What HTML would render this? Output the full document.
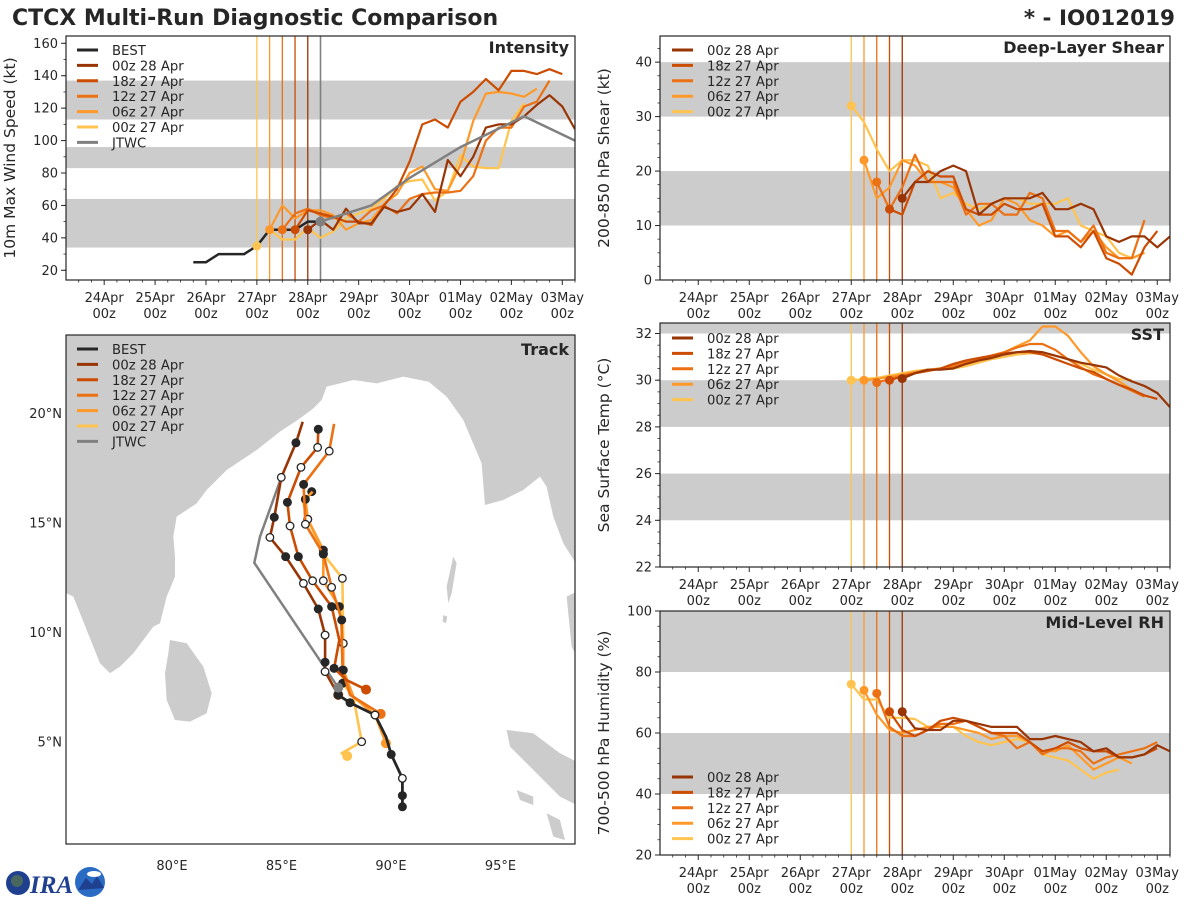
<!DOCTYPE html>
<html><head><meta charset="utf-8">
<style>
html,body{margin:0;padding:0;background:#fff;}
svg{display:block;font-family:"DejaVu Sans","Liberation Sans",sans-serif;}
</style></head>
<body>
<svg id="fig" xmlns="http://www.w3.org/2000/svg" width="1200" height="900" viewBox="0 0 1200 900">
<text x="12" y="25" font-size="22" font-weight="bold" fill="#262626">CTCX Multi-Run Diagnostic Comparison</text>
<text x="1175" y="25" font-size="21.5" font-weight="bold" fill="#262626" text-anchor="end">* - IO012019</text>
<g>
<circle cx="18" cy="883" r="12" fill="#1f3f8f"/>
<circle cx="17" cy="881" r="6" fill="#5a7a4a" opacity="0.7"/>
<text x="30" y="893" font-size="25" font-weight="bold" font-style="italic" fill="#1f3f8f" font-family="Liberation Serif, serif">IRA</text>
<circle cx="90" cy="882" r="15" fill="#2a6cc4"/>
<path d="M78 890 L86 878 L92 884 L97 876 L104 888 Z" fill="#1f3f8f"/>
<ellipse cx="94" cy="874" rx="7" ry="3" fill="#fff"/>
</g>
<g id="layer"></g>
</svg>
<script>
// ---------- data ----------
const dayLabels = ["24Apr","25Apr","26Apr","27Apr","28Apr","29Apr","30Apr","01May","02May","03May"];
const T0 = -0.75, T1 = 9.25;
const runNames = ["00z 28 Apr","18z 27 Apr","12z 27 Apr","06z 27 Apr","00z 27 Apr"];
const runColors = ["#993404","#cc4c02","#ec7014","#fe9929","#fec44f"];
const runInit = [4.0, 3.75, 3.5, 3.25, 3.0];

const bestT0 = 1.75;
const bestInt = [25,25,30,30,30,35,45,45,45,50,50];
const jtwcT = [4.25,5.25,6.0,7.0,8.25,9.25];
const jtwcInt = [50,60,77,96,115,100];

const int00z27 = [35,45,39,39,46,40,44,52,55,58,64,72,75,76,63,69,91,84,83,83,112,123];
const int06z27 = [45,60,52,57,57,54,45,49,51,61,67,80,84,70,69,85,112,129,130,129,127,132];
const int12z27 = [45,55,58,54,52,55,50,57,60,55,64,67,68,68,69,78,100,108,108,121,124,137];
const int18z27 = [45,57,55,53,50,50,48,60,70,87,110,113,108,124,130,138,131,143,143,141,144,141];
const int00z28 = [45,51,45,58,49,49,59,56,58,67,56,88,78,90,108,110,110,115,122,128,121,107];

const sh00z27 = [32,29,24,20,22,22,21,15,16,14,13,14,15,15,14,14,14,15,10,9,8,5,4,5];
const sh06z27 = [22,15,17,22,21,18,18,17,13,10,11,15,14,11,10,8,9,7,9,6,4,4,5];
const sh12z27 = [18,13,17,23,18,18,18,12,14,14,12,12,16,15,9,9,7,10,5,4,4,11];
const sh18z27 = [13,12,18,20,19,19,13,12,12,14,13,13,14,8,8,6,9,4,3,1,6,9];
const sh00z28 = [15,18,18,20,21,20,12,14,15,15,15,16,13,13,14,13,8,7,8,8,6,8];

const sst00z27 = [30.0,30.05,30.1,30.2,30.3,30.4,30.45,30.5,30.5,30.6,30.75,30.9,31.0,31.1,31.15,31.15,31.05,30.9,30.7,30.45,30.25,30.05,30.0];
const sst06z27 = [30.0,30.05,30.15,30.25,30.35,30.45,30.5,30.6,30.75,30.9,31.05,31.2,31.45,31.7,32.3,32.3,31.9,31.2,30.6,30.25,29.95,29.6,29.3];
const sst12z27 = [29.9,30.05,30.2,30.3,30.4,30.5,30.6,30.75,30.9,31.05,31.2,31.4,31.55,31.55,31.3,30.9,30.55,30.25,30.05,29.8,29.55,29.3];
const sst18z27 = [30.0,30.15,30.3,30.4,30.5,30.7,30.85,30.95,31.05,31.15,31.2,31.2,31.1,30.9,30.7,30.5,30.35,30.05,29.8,29.6,29.35,29.2];
const sst00z28 = [30.07,30.3,30.45,30.45,30.5,30.7,30.85,30.95,31.1,31.2,31.25,31.2,31.05,30.9,30.75,30.65,30.55,30.2,29.95,29.75,29.45,28.85];

const rh00z27 = [76,71,71,65,65,64.6,62,62,62,59,57,56,57,58,57,53,52,51,48,45,47,48];
const rh06z27 = [74,66,61,60,61,62,62,62,61,60,58,59,59,57,54,54,56,52,48,50,52,50];
const rh12z27 = [73,62,59,59,61,63,63,64,62,60,59,55,57,53,55,55,54,50,52,53,54,55,57];
const rh18z27 = [67,61,59,61,64,65,64,62,60,60,60,57,54,55,57,55,54,54,52,52,53,55];
const rh00z28 = [67,61.5,61,61,64,64,63,62,62,62,58,58,59,58,57,54,55,52,52,53,56,54];

const intTicks = [20,40,60,80,100,120,140,160];
const shTicks = [0,10,20,30,40];
const sstTicks = [22,24,26,28,30,32];
const rhTicks = [20,40,60,80,100];
const intBands = [[34,64],[83,96],[113,137]];
const shBands = [[10,20],[30,40]];
const sstBands = [[24,26],[28,30],[32,40]];
const rhBands = [[40,60],[80,100]];

// track data (lon, lat, marker f=filled o=open n=none i=init)
const bestLon = [90.52,90.52,90.52,90.01,89.77,89.27,88.13,87.59];
const bestLat = [2.02,2.53,3.32,4.41,5.22,6.21,6.77,7.13];
const bestMk = ["f","f","o","f","n","o","f","f"];
const jtwcLon = [87.59,83.76,84.02,84.99];
const jtwcLat = [7.46,13.16,14.35,17.06];
const trk00z28Lon = [87.59,86.99,86.99,86.99,86.68,86.00,85.19,84.47,84.67,84.99,85.66,85.97];
const trk00z28Lat = [7.13,8.19,8.62,9.86,11.05,12.22,13.44,14.32,15.24,17.06,18.64,19.60];
const trk00z28Mk = ["i","o","f","o","f","o","f","o","f","o","f","n"];
const trk18z27Lon = [88.86,87.98,87.40,87.64,87.29,86.42,85.77,85.39,85.27,85.89,86.65,86.68];
const trk18z27Lat = [7.37,7.80,8.34,9.63,11.16,12.34,13.44,14.84,15.92,17.52,18.43,19.26];
const trk18z27Mk = ["i","n","f","n","f","o","f","o","f","o","o","f"];
const trk12z27Lon = [89.53,88.13,87.79,87.75,87.75,87.29,86.91,86.09,86.01,87.18,87.40];
const trk12z27Lat = [6.26,7.13,8.26,9.63,10.55,12.04,13.56,14.92,16.74,18.26,19.50];
const trk12z27Mk = ["i","n","f","n","f","o","f","o","f","o","n"];
const trk06z27Lon = [89.77,89.27,88.28,87.82,87.82,87.64,86.91,86.91,86.20,86.09,86.42];
const trk06z27Lat = [4.92,6.21,7.05,8.26,9.48,11.16,12.34,13.74,15.15,16.06,16.41];
const trk06z27Mk = ["i","o","n","f","o","f","o","f","o","f","n"];
const trk00z27Lon = [88.00,87.75,88.66,88.28,87.79,87.82,87.78,86.91,86.20,86.00,86.38];
const trk00z27Lat = [4.34,4.46,4.99,7.05,7.66,9.48,12.45,13.56,15.15,15.88,16.41];
const trk00z27Mk = ["i","n","o","n","f","o","o","f","o","n","f"];
const lonTicks = [80,85,90,95];
const latTicks = [5,10,15,20];

// ---------- drawing ----------
const NS = "http://www.w3.org/2000/svg";
const layer = document.getElementById("layer");
function mk(tag, attrs, parent){
  const el = document.createElementNS(NS, tag);
  for (const k in attrs) el.setAttribute(k, attrs[k]);
  (parent || layer).appendChild(el);
  return el;
}
const DARK = "#262626";
const P_int = {x0:66,x1:575,y0:36,y1:280,vmin:14,vmax:164.5};
const P_sh = {x0:660,x1:1170,y0:36,y1:280,vmin:0,vmax:44.8};
const P_sst = {x0:660,x1:1170,y0:323,y1:567,vmin:22,vmax:32.45};
const P_rh = {x0:660,x1:1170,y0:611,y1:855,vmin:20,vmax:100};
function xT(p,t){ return p.x0 + (t-T0)/(T1-T0)*(p.x1-p.x0); }
function yV(p,v){ return p.y1 - (v-p.vmin)/(p.vmax-p.vmin)*(p.y1-p.y0); }

let clipId = 0;
function panel(p, name, title, ylabel, ticks, bands, minorStep, series, withBest){
  const g = mk("g", {});
  
  
  const cid = "clip" + (clipId++);
  const cp = mk("clipPath", {id:cid}, g);
  mk("rect", {x:p.x0, y:p.y0, width:p.x1-p.x0, height:p.y1-p.y0}, cp);
  const inner = mk("g", {"clip-path":"url(#"+cid+")"}, g);
  bands.forEach((b,i)=>{
    const r = mk("rect", {x:p.x0, y:yV(p,b[1]), width:p.x1-p.x0, height:yV(p,b[0])-yV(p,b[1]), fill:"#cccccc"}, inner);
    
    
  });
  runInit.forEach((t,i)=>{
    const l = mk("line", {x1:xT(p,t), x2:xT(p,t), y1:p.y0, y2:p.y1, stroke:runColors[i], "stroke-width":1.3}, inner);
    
    
  });
  if (withBest){
    const l = mk("line", {x1:xT(p,jtwcT[0]), x2:xT(p,jtwcT[0]), y1:p.y0, y2:p.y1, stroke:"#808080", "stroke-width":1.6}, inner);
    
    
  }
  for (let i = series.length-1; i >= 0; i--){
    const vals = series[i];
    const pts = vals.map((v,k)=> xT(p, runInit[i] + k*0.25).toFixed(1) + "," + yV(p,v).toFixed(1)).join(" ");
    const pl = mk("polyline", {points:pts, fill:"none", stroke:runColors[i], "stroke-width":2.2, "stroke-linejoin":"round"}, inner);
    
    
  }
  if (withBest){
    const bp = bestInt.map((v,k)=> xT(p, bestT0 + k*0.25).toFixed(1)+","+yV(p,v).toFixed(1)).join(" ");
    const b = mk("polyline", {points:bp, fill:"none", stroke:DARK, "stroke-width":2.5}, inner);
    
    
    const jp = jtwcInt.map((v,k)=> xT(p, jtwcT[k]).toFixed(1)+","+yV(p,v).toFixed(1)).join(" ");
    const j = mk("polyline", {points:jp, fill:"none", stroke:"#808080", "stroke-width":2.5}, inner);
    
    
  }
  for (let i = series.length-1; i >= 0; i--){
    const d = mk("circle", {cx:xT(p,runInit[i]), cy:yV(p,series[i][0]), r:4.5, fill:runColors[i]}, inner);
    
    
  }
  if (withBest){
    const d = mk("circle", {cx:xT(p,jtwcT[0]), cy:yV(p,jtwcInt[0]), r:5, fill:"#808080"}, inner);
    
    
  }
  const fr = mk("rect", {x:p.x0, y:p.y0, width:p.x1-p.x0, height:p.y1-p.y0, fill:"none", stroke:DARK, "stroke-width":1.2}, g);
  
  
  ticks.forEach(v=>{
    const y = yV(p,v);
    mk("line", {x1:p.x0-5, x2:p.x0, y1:y, y2:y, stroke:DARK, "stroke-width":1}, g);
    const t = mk("text", {x:p.x0-8, y:y+4.5, "font-size":13, fill:DARK, "text-anchor":"end"}, g);
    t.textContent = v;
    
    
  });
  for (let v = Math.ceil(p.vmin/minorStep)*minorStep; v <= p.vmax; v += minorStep){
    mk("line", {x1:p.x0-2.5, x2:p.x0, y1:yV(p,v), y2:yV(p,v), stroke:DARK, "stroke-width":0.8}, g);
  }
  for (let t = -0.5; t <= T1; t += 0.25){
    const x = xT(p,t);
    const major = Math.abs(t - Math.round(t)) < 1e-6;
    mk("line", {x1:x, x2:x, y1:p.y1, y2:p.y1+(major?5:2.5), stroke:DARK, "stroke-width":major?1:0.8}, g);
  }
  dayLabels.forEach((d,i)=>{
    const x = xT(p,i);
    const t1 = mk("text", {x:x, y:p.y1+22, "font-size":13, fill:DARK, "text-anchor":"middle"}, g);
    t1.textContent = d;
    
    
    const t2 = mk("text", {x:x, y:p.y1+38, "font-size":13, fill:DARK, "text-anchor":"middle"}, g);
    t2.textContent = "00z";
    
    
  });
  const tt = mk("text", {x:p.x1-6, y:p.y0+17, "font-size":16, "font-weight":"bold", fill:DARK, "text-anchor":"end"}, g);
  tt.textContent = title;
  
  
  const cx = p.x0 - 51, cy = (p.y0+p.y1)/2;
  const yl = mk("text", {x:cx, y:cy, "font-size":15.5, fill:DARK, "text-anchor":"middle", transform:"rotate(-90 "+cx+" "+cy+")"}, g);
  yl.textContent = ylabel;
  
  
  return g;
}

function legend(parent, x, y0, entries){
  const lg = mk("g", {}, parent);
  
  
  entries.forEach((e,i)=>{
    const y = y0 + i*15.4;
    const ln = mk("line", {x1:x, x2:x+21, y1:y, y2:y, stroke:e[1], "stroke-width":3}, lg);
    
    
    const t = mk("text", {x:x+35, y:y+5, "font-size":13.2, fill:DARK}, lg);
    t.textContent = e[0];
    
    
  });
}
const fcEntries = runNames.map((n,i)=>[n, runColors[i]]);
const fullEntries = [["BEST", DARK]].concat(fcEntries).concat([["JTWC","#808080"]]);

const gi = panel(P_int, "intensity", "Intensity", "10m Max Wind Speed (kt)", intTicks, intBands, 10,
  [int00z28,int18z27,int12z27,int06z27,int00z27], true);
legend(gi, 77, 50, fullEntries);
const gs = panel(P_sh, "shear", "Deep-Layer Shear", "200-850 hPa Shear (kt)", shTicks, shBands, 2.5,
  [sh00z28,sh18z27,sh12z27,sh06z27,sh00z27], false);
legend(gs, 672, 50, fcEntries);
const gt = panel(P_sst, "sst", "SST", "Sea Surface Temp (°C)", sstTicks, sstBands, 0.5,
  [sst00z28,sst18z27,sst12z27,sst06z27,sst00z27], false);
legend(gt, 672, 338, fcEntries);
const gr = panel(P_rh, "rh", "Mid-Level RH", "700-500 hPa Humidity (%)", rhTicks, rhBands, 5,
  [rh00z28,rh18z27,rh12z27,rh06z27,rh00z27], false);
legend(gr, 672, 777, fcEntries);

// ---------- track map ----------
const M = {x0:66,x1:575,y0:335,y1:844};
function xL(lon){ return 172 + (lon-80)*21.9; }
function yL(lat){ return 413 - (lat-20)*21.9; }
const gm = mk("g", {});


const cpm = mk("clipPath", {id:"clipMap"}, gm);
mk("rect", {x:M.x0, y:M.y0, width:M.x1-M.x0, height:M.y1-M.y0}, cpm);
const mapIn = mk("g", {"clip-path":"url(#clipMap)"}, gm);
const land = mk("g", {transform:"translate(60,330) scale(0.3333)", fill:"#cccccc"}, mapIn);


const landShapes = [
 "0,0 1130,0 1130,160 1030,140 950,160 880,150 840,160 800,170 785,210 760,235 720,265 660,305 590,360 500,420 440,480 410,520 350,560 340,620 345,680 345,740 320,800 300,880 280,890 250,930 220,970 180,1010 150,1030 120,1000 80,900 40,800 0,780",
 "1060,0 1560,0 1560,720 1510,640 1480,560 1460,470 1440,440 1390,480 1330,510 1275,525 1265,400 1210,270 1160,200 1100,150 1060,120",
 "330,930 380,940 430,1010 455,1090 440,1150 390,1175 345,1170 320,1110 315,1030 325,970",
 "1340,1200 1420,1210 1500,1270 1560,1300 1560,1430 1500,1400 1400,1300 1350,1250",
 "1180,680 1190,700 1175,790 1165,820 1160,770",
 "1150,855 1162,860 1158,880 1148,875",
 "1370,1380 1420,1400 1420,1425 1380,1410",
 "1460,1450 1500,1470 1515,1530 1480,1520",
 "1520,800 1560,780 1560,1000 1535,950"
];
landShapes.forEach(s=>{ mk("polygon", {points:s}, land); });

function track(lons, lats, mks, color, nm, w){
  const pts = lons.map((l,k)=> xL(l).toFixed(1)+","+yL(lats[k]).toFixed(1)).join(" ");
  const pl = mk("polyline", {points:pts, fill:"none", stroke:color, "stroke-width":w, "stroke-linejoin":"round"}, mapIn);
  
  
  if (!mks) return;
  mks.forEach((m,k)=>{
    if (m === "n") return;
    const attrs = m === "f" ? {r:4.5, fill:DARK} : m === "o" ? {r:3.8, fill:"#fff", stroke:DARK, "stroke-width":1.3} : {r:5, fill:color};
    attrs.cx = xL(lons[k]); attrs.cy = yL(lats[k]);
    const c = mk("circle", attrs, mapIn);
    
    
  });
}
track(jtwcLon, jtwcLat, null, "#808080", "jtwc-track", 2.5);
track(trk00z27Lon, trk00z27Lat, trk00z27Mk, runColors[4], "track-00z-27-apr", 2.6);
track(trk06z27Lon, trk06z27Lat, trk06z27Mk, runColors[3], "track-06z-27-apr", 2.6);
track(trk12z27Lon, trk12z27Lat, trk12z27Mk, runColors[2], "track-12z-27-apr", 2.6);
track(trk18z27Lon, trk18z27Lat, trk18z27Mk, runColors[1], "track-18z-27-apr", 2.6);
track(trk00z28Lon, trk00z28Lat, trk00z28Mk, runColors[0], "track-00z-28-apr", 2.6);
track(bestLon, bestLat, bestMk, DARK, "best-track", 2.8);
const jd = mk("circle", {cx:xL(jtwcLon[0]), cy:yL(jtwcLat[0]), r:5, fill:"#808080"}, mapIn);



const mf = mk("rect", {x:M.x0, y:M.y0, width:M.x1-M.x0, height:M.y1-M.y0, fill:"none", stroke:DARK, "stroke-width":1.2}, gm);


lonTicks.forEach(l=>{
  const t = mk("text", {x:xL(l), y:M.y1+26, "font-size":13, fill:DARK, "text-anchor":"middle"}, gm);
  t.textContent = l + "°E";
  
  
});
latTicks.forEach(l=>{
  const t = mk("text", {x:M.x0-4, y:yL(l)+5, "font-size":13, fill:DARK, "text-anchor":"end"}, gm);
  t.textContent = l + "°N";
  
  
});
const tt = mk("text", {x:M.x1-6, y:M.y0+20, "font-size":16, "font-weight":"bold", fill:DARK, "text-anchor":"end"}, gm);
tt.textContent = "Track";


legend(gm, 77, 349, fullEntries);
</script>
</body></html>
